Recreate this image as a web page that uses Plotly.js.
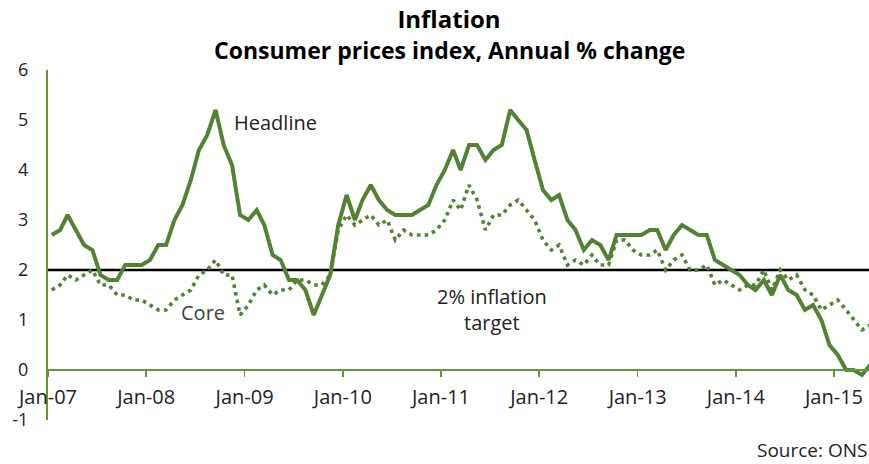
<!DOCTYPE html>
<html>
<head>
<meta charset="utf-8">
<script src="https://cdn.plot.ly/plotly-3.0.1.min.js"></script>
<style>
  html, body { margin: 0; padding: 0; background: #fff; }
  #chart { width: 869px; height: 464px; }
</style>
</head>
<body>
<div id="chart"></div>
<script>
// ---- Data (UK CPI, annual % change, monthly Jan-2007 .. May-2015) ----
const START_YEAR = 2007;
const START_MONTH = 1;

const headline = [
  2.7, 2.8, 3.1, 2.8, 2.5, 2.4, 1.9, 1.8, 1.8, 2.1, 2.1, 2.1,   // 2007
  2.2, 2.5, 2.5, 3.0, 3.3, 3.8, 4.4, 4.7, 5.2, 4.5, 4.1, 3.1,   // 2008
  3.0, 3.2, 2.9, 2.3, 2.2, 1.8, 1.8, 1.6, 1.1, 1.5, 1.9, 2.9,   // 2009
  3.5, 3.0, 3.4, 3.7, 3.4, 3.2, 3.1, 3.1, 3.1, 3.2, 3.3, 3.7,   // 2010
  4.0, 4.4, 4.0, 4.5, 4.5, 4.2, 4.4, 4.5, 5.2, 5.0, 4.8, 4.2,   // 2011
  3.6, 3.4, 3.5, 3.0, 2.8, 2.4, 2.6, 2.5, 2.2, 2.7, 2.7, 2.7,   // 2012
  2.7, 2.8, 2.8, 2.4, 2.7, 2.9, 2.8, 2.7, 2.7, 2.2, 2.1, 2.0,   // 2013
  1.9, 1.7, 1.6, 1.8, 1.5, 1.9, 1.6, 1.5, 1.2, 1.3, 1.0, 0.5,   // 2014
  0.3, 0.0, 0.0, -0.1, 0.1                                      // 2015
];

const core = [
  1.6, 1.7, 1.9, 1.8, 1.9, 2.0, 1.7, 1.7, 1.5, 1.5, 1.4, 1.4,   // 2007
  1.3, 1.2, 1.2, 1.4, 1.5, 1.6, 1.9, 2.0, 2.2, 1.9, 1.9, 1.1,   // 2008
  1.3, 1.6, 1.7, 1.5, 1.6, 1.6, 1.8, 1.8, 1.7, 1.7, 1.9, 2.8,   // 2009
  3.1, 2.9, 3.0, 3.1, 2.9, 3.0, 2.6, 2.8, 2.7, 2.7, 2.7, 2.8,   // 2010
  3.0, 3.4, 3.2, 3.7, 3.4, 2.8, 3.1, 3.1, 3.3, 3.4, 3.2, 3.0,   // 2011
  2.6, 2.4, 2.5, 2.1, 2.2, 2.1, 2.3, 2.1, 2.1, 2.6, 2.6, 2.4,   // 2012
  2.3, 2.3, 2.4, 2.0, 2.2, 2.3, 2.0, 2.0, 2.1, 1.7, 1.8, 1.7,   // 2013
  1.6, 1.7, 1.7, 2.0, 1.6, 2.0, 1.8, 1.9, 1.6, 1.5, 1.2, 1.3,   // 2014
  1.4, 1.2, 1.0, 0.8, 0.9                                       // 2015
];

const TARGET = 2;
const yTickVals = [-1, 0, 1, 2, 3, 4, 5, 6];
const yTickText = ['-1', '0', '1', '2', '3', '4', '5', '6'];

// monthly dates (mid-month)
const dates = headline.map((_, i) => {
  const m0 = (START_MONTH - 1) + i;
  const y = START_YEAR + Math.floor(m0 / 12);
  const m = (m0 % 12) + 1;
  return y + '-' + String(m).padStart(2, '0') + '-15';
});

// ---- Styling ----
const GREEN = '#548235';
const AXIS_GREEN = '#64953f';
const TXT = '#222222';
const FONT = 'Open Sans, Noto Sans, sans-serif';

const W = 869, H = 464;
const M = { l: 48, r: 0, t: 70, b: 44 };
const plotW = W - M.l - M.r, plotH = H - M.t - M.b;
const px = x => (x - M.l) / plotW;        // pixel -> paper x
const py = y => (H - M.b - y) / plotH;    // pixel -> paper y

const traces = [
  {
    type: 'scatter', mode: 'lines', name: 'Headline',
    x: dates, y: headline,
    line: { color: GREEN, width: 4 },
    hoverinfo: 'x+y'
  },
  {
    type: 'scatter', mode: 'lines', name: 'Core',
    x: dates, y: core,
    line: { color: GREEN, width: 3.6, dash: '3.6px,4.2px' },
    hoverinfo: 'x+y'
  }
];

const layout = {
  width: W, height: H,
  margin: M,
  paper_bgcolor: '#ffffff',
  plot_bgcolor: '#ffffff',
  showlegend: false,
  font: { family: FONT, color: TXT, size: 18 },
  title: {
    text: '<b>Inflation</b>',
    font: { family: FONT, size: 24, color: '#000' },
    xref: 'container', x: 449 / W, xanchor: 'center',
    yref: 'container', y: 1 - 20 / H, yanchor: 'middle'
  },
  xaxis: {
    type: 'date',
    range: ['2007-01-01', '2015-05-11'],
    anchor: 'free',
    position: 1 / 7,
    showline: true, linecolor: AXIS_GREEN, linewidth: 2,
    ticks: 'outside', ticklen: 6, tickwidth: 1.5, tickcolor: AXIS_GREEN,
    ticklabelstandoff: 3,
    tick0: '2007-01-01', dtick: 'M12', tickformat: '%b-%y',
    tickfont: { family: FONT, size: 20, color: TXT },
    showgrid: false, zeroline: false, fixedrange: true
  },
  yaxis: {
    range: [-1, 6],
    tickvals: yTickVals, ticktext: yTickText,
    showline: true, linecolor: AXIS_GREEN, linewidth: 2,
    ticks: '', ticklabelstandoff: 14,
    tickfont: { family: FONT, size: 18, color: TXT },
    showgrid: false, zeroline: false, fixedrange: true
  },
  shapes: [
    {
      type: 'line', xref: 'paper', x0: 0, x1: 1,
      yref: 'y', y0: TARGET, y1: TARGET,
      line: { color: '#000000', width: 2.5 },
      layer: 'below'
    }
  ],
  annotations: [
    { text: '<b>Consumer prices index, Annual % change</b>', xref: 'paper', yref: 'paper',
      x: px(449), y: py(50), xanchor: 'center', yanchor: 'middle',
      showarrow: false, font: { family: FONT, size: 23, color: '#000' } },
    { text: 'Headline', xref: 'paper', yref: 'paper', x: px(275), y: py(122),
      xanchor: 'center', yanchor: 'middle',
      showarrow: false, font: { family: FONT, size: 20, color: TXT } },
    { text: 'Core', xref: 'paper', yref: 'paper', x: px(203), y: py(312),
      xanchor: 'center', yanchor: 'middle',
      showarrow: false, font: { family: FONT, size: 20, color: '#404040' } },
    { text: '2% inflation<br>target', xref: 'paper', yref: 'paper', x: px(492), y: py(309),
      xanchor: 'center', yanchor: 'middle',
      showarrow: false, align: 'center', font: { family: FONT, size: 20, color: TXT } },
    { text: 'Source: ONS', xref: 'paper', yref: 'paper', x: px(868), y: py(450),
      xanchor: 'right', yanchor: 'middle', showarrow: false, borderpad: 0,
      font: { family: FONT, size: 19, color: TXT } }
  ]
};

Plotly.newPlot('chart', traces, layout, { displayModeBar: false, staticPlot: true });
</script>
</body>
</html>
